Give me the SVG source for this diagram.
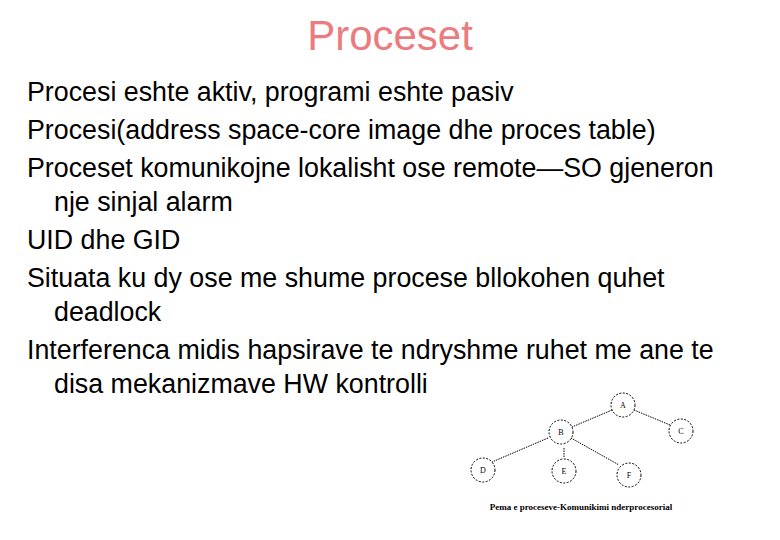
<svg xmlns="http://www.w3.org/2000/svg" width="780" height="540" viewBox="0 0 780 540">
<style>
.t{font-family:"Liberation Sans",Arial,sans-serif;font-size:26.8px;fill:#000}
.n circle{fill:#fff;stroke:#000;stroke-width:1;stroke-dasharray:2 1.5}
.n text{font-family:"Liberation Serif",serif;font-size:8px;text-anchor:middle;fill:#000}
.c line{stroke:#000;stroke-width:1;stroke-dasharray:1.5 1}
</style>
<rect width="780" height="540" fill="#fff"/>
<text x="390" y="50" text-anchor="middle" style="font-family:'Liberation Sans',Arial,sans-serif;font-size:42px;fill:#ec7b80">Proceset</text>
<text class="t" x="27" y="101">Procesi eshte aktiv, programi eshte pasiv</text>
<text class="t" x="27" y="139">Procesi(address space-core image dhe proces table)</text>
<text class="t" x="27" y="177">Proceset komunikojne lokalisht ose remote—SO gjeneron</text>
<text class="t" x="54" y="211">nje sinjal alarm</text>
<text class="t" x="27" y="249">UID dhe GID</text>
<text class="t" x="27" y="287">Situata ku dy ose me shume procese bllokohen quhet</text>
<text class="t" x="54" y="321">deadlock</text>
<text class="t" x="27" y="359">Interferenca midis hapsirave te ndryshme ruhet me ane te</text>
<text class="t" x="54" y="393">disa mekanizmave HW kontrolli</text>
<g class="c">
<line x1="612" y1="410" x2="572" y2="427"/>
<line x1="634" y1="410" x2="670" y2="425"/>
<line x1="548" y1="438" x2="492" y2="462"/>
<line x1="564" y1="448" x2="564" y2="458"/>
<line x1="571" y1="438" x2="619" y2="465"/>
</g>
<g id="A" class="n"><circle cx="623" cy="405" r="12"/><text x="623" y="408">A</text></g>
<g id="B" class="n"><circle cx="561" cy="432" r="12"/><text x="561" y="435">B</text></g>
<g id="C" class="n"><circle cx="681" cy="431" r="12"/><text x="681" y="434">C</text></g>
<g id="D" class="n"><circle cx="483" cy="470" r="12"/><text x="483" y="473">D</text></g>
<g id="E" class="n"><circle cx="564" cy="471" r="12"/><text x="564" y="474">E</text></g>
<g id="F" class="n"><circle cx="629" cy="475" r="12"/><text x="629" y="478">F</text></g>
<text x="581" y="510" text-anchor="middle" style="font-family:'Liberation Serif',serif;font-size:9px;font-weight:bold;fill:#000">Pema e proceseve-Komunikimi nderprocesorial</text>
</svg>
